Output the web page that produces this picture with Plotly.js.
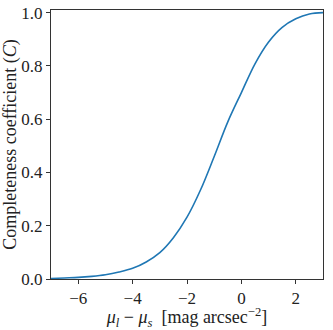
<!DOCTYPE html>
<html>
<head>
<meta charset="utf-8">
<script src="https://cdn.plot.ly/plotly-3.0.1.min.js"></script>
<style>
  html, body { margin: 0; padding: 0; background: #fff; }
  #plot { width: 333px; height: 330px; }
  #plot svg text { font-family: 'Liberation Serif', 'Times New Roman', serif !important; }
</style>
</head>
<body>
<div id="plot"></div>
<script>
// surface brightness difference (mu_l - mu_s) and completeness coefficient C
var magDiff = [-7, -6.5, -6, -5.5, -5, -4.5, -4, -3.5, -3, -2.5, -2, -1.5, -1, -0.5, 0, 0.5, 1, 1.5, 2, 2.5, 3];
var completeness = [0.002, 0.004, 0.006, 0.010, 0.016, 0.026, 0.040, 0.064, 0.099, 0.155, 0.232, 0.335, 0.460, 0.590, 0.700, 0.808, 0.890, 0.945, 0.977, 0.995, 1.0];

var xTicks = [-6, -4, -2, 0, 2];
var xTickText = ['\u22126', '\u22124', '\u22122', '0', '2'];
var yTicks = [0, 0.2, 0.4, 0.6, 0.8, 1.0];
var yTickText = ['0.0', '0.2', '0.4', '0.6', '0.8', '1.0'];

function main(){
	var font = 'Times New Roman, Liberation Serif, serif';
	var data = [{
	  x: magDiff,
	  y: completeness,
	  type: 'scatter',
	  mode: 'lines',
	  line: {color: '#1f77b4', width: 1.6, shape: 'spline', smoothing: 1},
	  hoverinfo: 'none'
	}];

	var axisCommon = {
	  showgrid: false,
	  zeroline: false,
	  showline: true,
	  mirror: true,
	  linecolor: '#333',
	  linewidth: 1,
	  ticks: 'outside',
	  ticklen: 4,
	  tickwidth: 1,
	  tickcolor: '#333',
	  tickfont: {size: 17}
	};

	var layout = {
	  width: 333,
	  height: 330,
	  margin: {l: 51, r: 10, t: 10, b: 51},
	  font: {family: font, size: 15, color: '#222'},
	  paper_bgcolor: '#fff',
	  plot_bgcolor: '#fff',
	  showlegend: false,
	  xaxis: Object.assign({}, axisCommon, {
	    range: [-7, 3],
	    tickvals: xTicks,
	    ticktext: xTickText,
	    title: {
	      text: '<i>\u03bc<sub>l</sub></i> \u2212 <i>\u03bc<sub>s</sub></i>  [mag arcsec<sup>\u22122</sup>]',
	      standoff: 0
	    }
	  }),
	  yaxis: Object.assign({}, axisCommon, {
	    range: [0, 1.01],
	    tickvals: yTicks,
	    ticktext: yTickText,
	    title: {
	      text: 'Completeness coefficient (<i>C</i>)',
	      standoff: 4
	    }
	  })
	};

	Plotly.newPlot('plot', data, layout, {
		staticPlot: true,
		displayModeBar: false
	});
}
main();
</script>
</body>
</html>
